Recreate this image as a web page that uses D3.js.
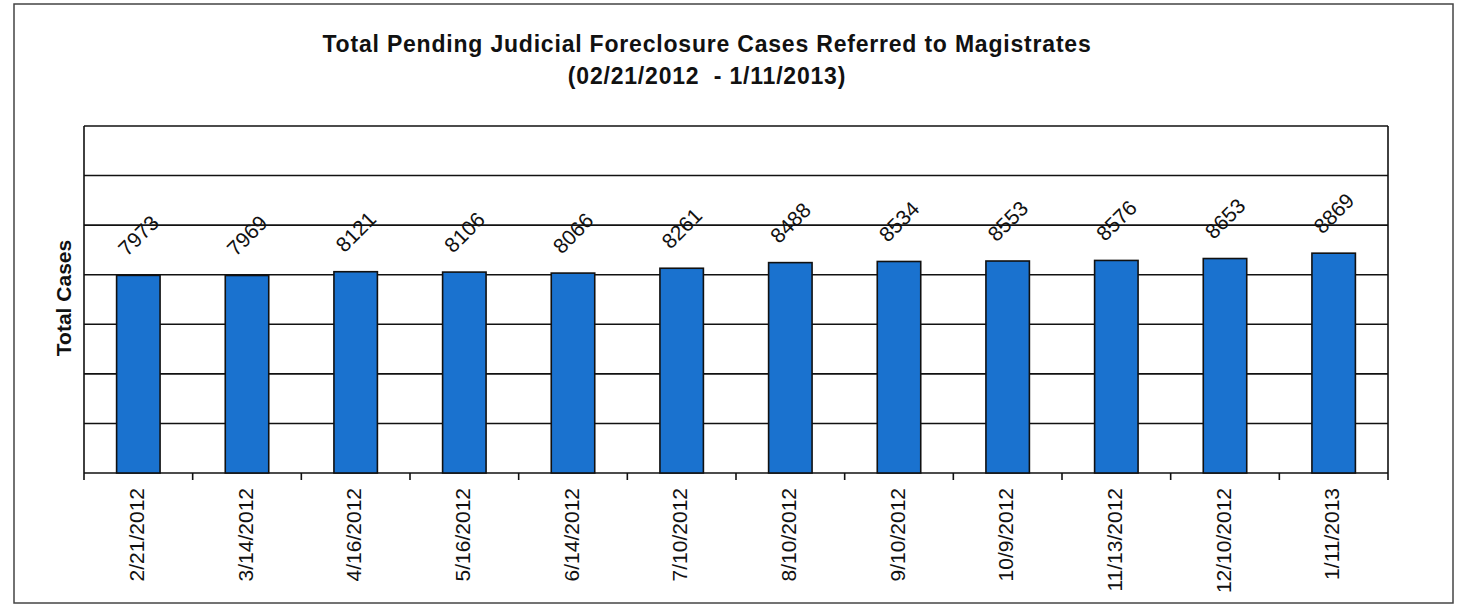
<!DOCTYPE html>
<html>
<head>
<meta charset="utf-8">
<script src="https://cdnjs.cloudflare.com/ajax/libs/d3/7.8.5/d3.min.js"></script>
<style>
  html, body { margin: 0; padding: 0; background: #fff; }
  svg { display: block; font-family: Arial, "Liberation Sans", sans-serif; }
</style>
</head>
<body>
<div id="chart"></div>
<script>
// Data
const dates = ["2/21/2012", "3/14/2012", "4/16/2012", "5/16/2012", "6/14/2012", "7/10/2012",
  "8/10/2012", "9/10/2012", "10/9/2012", "11/13/2012", "12/10/2012", "1/11/2013"];
const totals = [7973, 7969, 8121, 8106, 8066, 8261, 8488, 8534, 8553, 8576, 8653, 8869];
const gridValues = [0, 2000, 4000, 6000, 8000, 10000, 12000, 14000];

const width = 1464;
const height = 608;
const plot = { left: 84, right: 1388, top: 126, bottom: 473 };

const data = dates.map((d, i) => ({ date: d, total: totals[i] }));

const svg = d3.select("#chart")
  .append("svg")
  .attr("width", width)
  .attr("height", height);

// Outer frame
svg.append("rect")
  .attr("x", 14).attr("y", 4)
  .attr("width", 1439).attr("height", 599)
  .attr("fill", "#fff")
  .attr("stroke", "#444")
  .attr("stroke-width", 1.5);

// Scales
const x = d3.scaleBand()
  .domain(dates)
  .range([plot.left, plot.right])
  .paddingInner(0.6)
  .paddingOuter(0.3);

const y = d3.scaleLinear()
  .domain([0, 14000])
  .range([plot.bottom, plot.top]);

// Gridlines
svg.selectAll(".grid")
  .data(gridValues)
  .enter()
  .append("line")
  .attr("class", "grid")
  .attr("x1", plot.left)
  .attr("x2", plot.right)
  .attr("y1", (d) => y(d))
  .attr("y2", (d) => y(d))
  .attr("stroke", "#111")
  .attr("stroke-width", 1.6);

// Plot border (left and right)
svg.append("line")
  .attr("x1", plot.left).attr("x2", plot.left)
  .attr("y1", plot.top).attr("y2", plot.bottom)
  .attr("stroke", "#111").attr("stroke-width", 1.6);
svg.append("line")
  .attr("x1", plot.right).attr("x2", plot.right)
  .attr("y1", plot.top).attr("y2", plot.bottom + 7)
  .attr("stroke", "#111").attr("stroke-width", 1.6);

// Category boundary ticks
const step = x.step();
const boundaries = dates.map((d) => x(d) - (step - x.bandwidth()) / 2);
svg.selectAll(".tick")
  .data(boundaries)
  .enter()
  .append("line")
  .attr("class", "tick")
  .attr("x1", (d) => d)
  .attr("x2", (d) => d)
  .attr("y1", plot.bottom)
  .attr("y2", plot.bottom + 7)
  .attr("stroke", "#111")
  .attr("stroke-width", 1.6);

// Bars
svg.selectAll(".bar")
  .data(data)
  .enter()
  .append("rect")
  .attr("class", "bar")
  .attr("x", (d) => x(d.date))
  .attr("y", (d) => y(d.total))
  .attr("width", x.bandwidth())
  .attr("height", (d) => y(0) - y(d.total))
  .attr("fill", "#1a72cf")
  .attr("stroke", "#111")
  .attr("stroke-width", 1.6);

// Value labels
svg.selectAll(".value-label")
  .data(data)
  .enter()
  .append("text")
  .attr("class", "value-label")
  .attr("transform", (d) => `translate(${x(d.date) + x.bandwidth() / 2},${y(d.total) - 40}) rotate(-45)`)
  .attr("text-anchor", "middle")
  .attr("dominant-baseline", "central")
  .style("font-size", "21px")
  .style("fill", "#111")
  .text((d) => d.total);

// Category labels
svg.selectAll(".date-label")
  .data(data)
  .enter()
  .append("text")
  .attr("class", "date-label")
  .attr("transform", (d) => `translate(${x(d.date) + x.bandwidth() / 2 - 2},${plot.bottom + 15}) rotate(-90)`)
  .attr("text-anchor", "end")
  .attr("dominant-baseline", "central")
  .style("font-size", "21px")
  .style("fill", "#111")
  .text((d) => d.date);

// Axis title
svg.append("text")
  .attr("transform", `translate(63,298) rotate(-90)`)
  .attr("text-anchor", "middle")
  .attr("dominant-baseline", "central")
  .style("font-size", "21px")
  .style("font-weight", "bold")
  .style("fill", "#111")
  .text("Total Cases");

// Chart title
svg.append("text")
  .attr("x", 707)
  .attr("y", 52)
  .attr("text-anchor", "middle")
  .style("font-size", "23px")
  .style("font-weight", "bold")
  .style("letter-spacing", "0.8px")
  .style("fill", "#111")
  .text("Total Pending Judicial Foreclosure Cases Referred to Magistrates");

svg.append("text")
  .attr("x", 707)
  .attr("y", 84)
  .attr("text-anchor", "middle")
  .style("font-size", "23px")
  .style("font-weight", "bold")
  .style("letter-spacing", "0.8px")
  .style("fill", "#111")
  .style("white-space", "pre")
  .text("(02/21/2012  - 1/11/2013)");
</script>
</body>
</html>
